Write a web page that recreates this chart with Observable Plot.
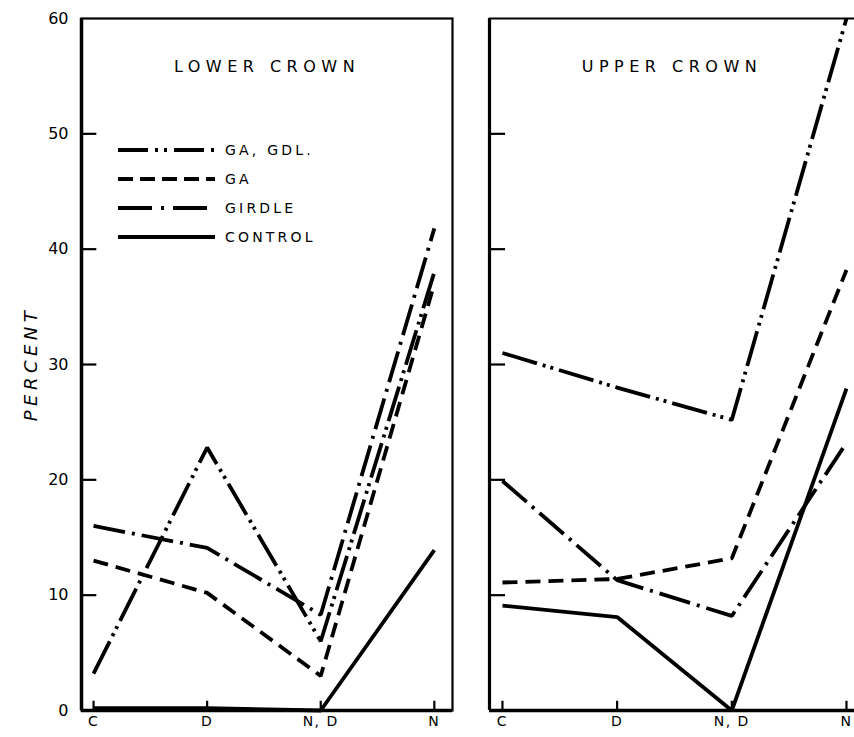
<!DOCTYPE html>
<html>
<head>
<meta charset="utf-8">
<script src="https://cdn.jsdelivr.net/npm/d3@7"></script>
<script src="https://cdn.jsdelivr.net/npm/@observablehq/plot@0.6"></script>
<style>
  body { margin: 0; background: white; }
  #wrap { position: relative; width: 854px; height: 737px; overflow: hidden; background: white; }
  #left, #right { position: absolute; top: 0; }
  #left { left: 0; }
  #right { left: 460px; }
  #legend { position: absolute; left: 118px; top: 135px; font-family: "DejaVu Sans", sans-serif; font-size: 14px; letter-spacing: 3.2px; }
  #legend .row { display: flex; align-items: center; height: 29px; }
  #legend svg { margin-right: 10px; }
  #ylabel { position: absolute; left: 30px; top: 364px; transform: translate(-50%, -50%) rotate(-90deg);
            font-family: "DejaVu Sans", sans-serif; font-style: italic; font-size: 18px; letter-spacing: 4.5px; white-space: nowrap; }
</style>
</head>
<body>
<div id="wrap">
  <div id="left"></div>
  <div id="right"></div>
  <div id="legend"></div>
  <div id="ylabel"></div>
</div>
<script>
// ---- data ----
const categories = ["C", "D", "N, D", "N"];
const panels = ["LOWER CROWN", "UPPER CROWN"];
const seriesNames = ["GA, GDL.", "GA", "GIRDLE", "CONTROL"];
const yLabel = "PERCENT";

const lowerGaGdl   = [3.2, 22.8, 6.0, 38.0];
const lowerGa      = [13.0, 10.2, 3.0, 37.0];
const lowerGirdle  = [16.0, 14.1, 8.3, 41.8];
const lowerControl = [0.2, 0.2, 0.0, 13.9];

const upperGaGdl   = [31.0, 28.0, 25.2, 60.0];
const upperGa      = [11.1, 11.4, 13.2, 38.2];
const upperGirdle  = [19.9, 11.3, 8.2, 23.2];
const upperControl = [9.1, 8.1, 0.0, 27.9];

const yTickLabels = [0, 10, 20, 30, 40, 50, 60];
const innerYTicks = [10, 20, 30, 40, 50];

// ---- styles ----
const dashes = {
  "GA, GDL.": "36,6,3,5,3,6",
  "GA": "15,8",
  "GIRDLE": "32,7,3,7",
  "CONTROL": null
};
const SW = 3.8;

const idx = categories.map((_, i) => i);
function rows(values, name) {
  return values.map((v, i) => ({i, v, series: name}));
}
const lowerSeries = [
  rows(lowerGaGdl, "GA, GDL."), rows(lowerGa, "GA"),
  rows(lowerGirdle, "GIRDLE"), rows(lowerControl, "CONTROL")
];
const upperSeries = [
  rows(upperGaGdl, "GA, GDL."), rows(upperGa, "GA"),
  rows(upperGirdle, "GIRDLE"), rows(upperControl, "CONTROL")
];

function lineMarks(seriesRows) {
  return seriesRows.map(r => Plot.line(r, {
    x: "i", y: "v", stroke: "black", strokeWidth: SW,
    strokeDasharray: dashes[r[0].series] || undefined,
    strokeLinejoin: "miter", strokeLinecap: "butt"
  }));
}

const common = {
  height: 737,
  marginTop: 18,
  marginBottom: 27,
  style: {fontFamily: "DejaVu Sans, sans-serif", fontSize: "15px", color: "black", background: "white", overflow: "visible"}
};

// left panel
const lxDomain = [-0.106, 3.16];
const left = Plot.plot({
  ...common,
  width: 460,
  marginLeft: 81,
  marginRight: 8,
  x: {domain: lxDomain},
  y: {domain: [0, 60]},
  marks: [
    Plot.frame({stroke: "black", strokeWidth: 2.2}),
    Plot.ruleX([lxDomain[0]], {stroke: "black", strokeWidth: 3.5}),
    Plot.ruleY([0], {stroke: "black", strokeWidth: 3.5}),
    Plot.ruleY(innerYTicks, {y: d => d, x1: lxDomain[0], x2: lxDomain[0] + 0.135, stroke: "black", strokeWidth: 2.2}),
    Plot.ruleX(idx, {x: d => d, y1: 0, y2: 0.8, stroke: "black", strokeWidth: 2.2}),
    Plot.axisY({ticks: yTickLabels, tickSize: 0, tickPadding: 13, label: null, fontSize: 16}),
    Plot.axisX({ticks: idx, tickSize: 0, tickPadding: 6, label: null, tickFormat: i => categories[i], fontSize: 14}),
    Plot.text([panels[0]], {frameAnchor: "top", dy: 42, fontSize: 16, fill: "black"}),
    ...lineMarks(lowerSeries)
  ]
});
document.getElementById("left").append(left);

// right panel
const rxDomain = [-0.113, 3.07];
const right = Plot.plot({
  ...common,
  width: 394,
  marginLeft: 29,
  marginRight: 0,
  x: {domain: rxDomain},
  y: {domain: [0, 60], axis: null},
  marks: [
    Plot.ruleX([rxDomain[0]], {stroke: "black", strokeWidth: 3.2}),
    Plot.ruleY([0], {stroke: "black", strokeWidth: 3.5}),
    Plot.ruleY([60], {stroke: "black", strokeWidth: 2.2}),
    Plot.ruleY(innerYTicks, {y: d => d, x1: rxDomain[0], x2: rxDomain[0] + 0.14, stroke: "black", strokeWidth: 2.2}),
    Plot.ruleX(idx, {x: d => d, y1: 0, y2: 0.8, stroke: "black", strokeWidth: 2.2}),
    Plot.axisX({ticks: idx, tickSize: 0, tickPadding: 6, label: null, tickFormat: i => categories[i], fontSize: 14}),
    Plot.text([panels[1]], {frameAnchor: "top", dy: 42, fontSize: 16, fill: "black"}),
    ...lineMarks(upperSeries)
  ]
});
document.getElementById("right").append(right);

// letter spacing for titles and tick labels
for (const svg of [left, right]) {
  svg.querySelectorAll("text").forEach(t => {
    if (panels.includes(t.textContent)) t.setAttribute("letter-spacing", "5.5px");
    else if (categories.includes(t.textContent)) t.setAttribute("letter-spacing", "1.5px");
  });
}

document.getElementById("ylabel").textContent = yLabel;

// legend
const legend = document.getElementById("legend");
for (const name of seriesNames) {
  const row = document.createElement("div");
  row.className = "row";
  const svg = d3.create("svg").attr("width", 97).attr("height", 10);
  svg.append("line").attr("x1", 0).attr("x2", 97).attr("y1", 5).attr("y2", 5)
    .attr("stroke", "black").attr("stroke-width", SW)
    .attr("stroke-dasharray", name === "GA, GDL." ? "30,7,3,6,3,7" : name === "GIRDLE" ? "34,9,3,9" : name === "GA" ? "15,7" : null);
  row.append(svg.node());
  const span = document.createElement("span");
  span.textContent = name;
  row.append(span);
  legend.append(row);
}
</script>
</body>
</html>
